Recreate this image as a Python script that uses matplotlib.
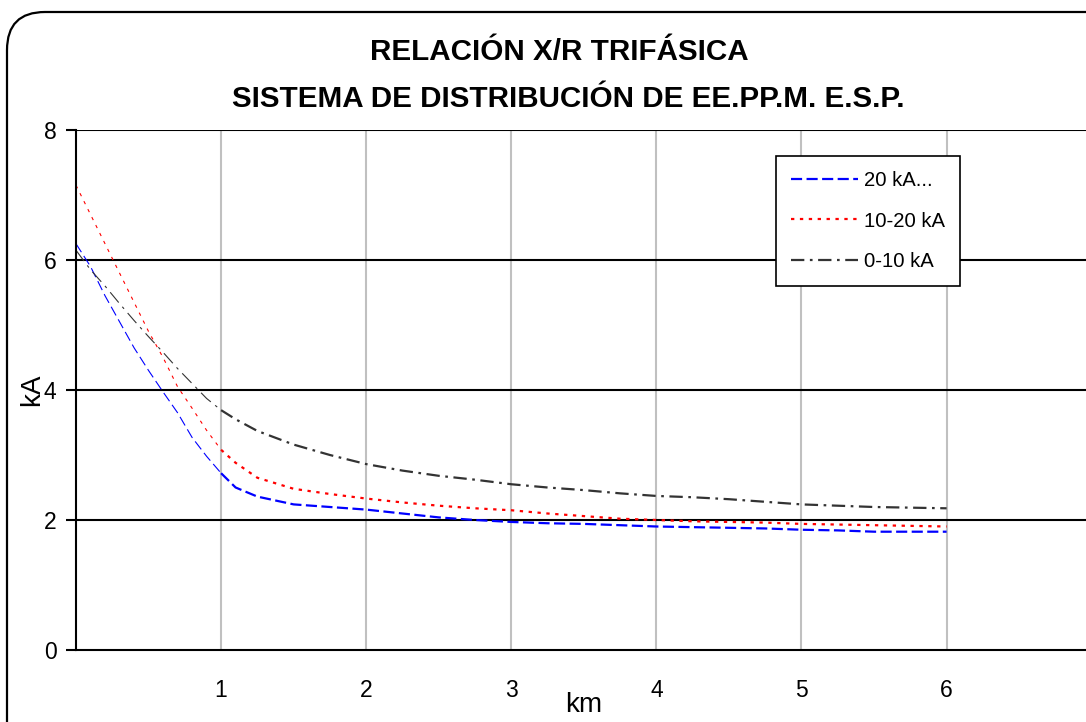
import numpy as np
import matplotlib
matplotlib.use("Agg")
import matplotlib.pyplot as plt
from matplotlib.patches import FancyBboxPatch

plt.rcParams['font.family'] = ['Liberation Sans', 'DejaVu Sans']

# distance (km) and X/R values
km = [0.0, 0.1, 0.2, 0.3, 0.4, 0.5, 0.6, 0.7, 0.8, 0.9, 1.0,
      1.1, 1.25, 1.5, 1.75, 2.0, 2.25, 2.5, 2.75, 3.0, 3.25, 3.5, 3.75,
      4.0, 4.25, 4.5, 4.75, 5.0, 5.25, 5.5, 5.75, 6.0]
xr_20 = [6.25, 5.9, 5.45, 5.05, 4.65, 4.3, 3.97, 3.65, 3.27, 2.98, 2.72,
         2.5, 2.36, 2.24, 2.2, 2.16, 2.1, 2.04, 2.0, 1.97, 1.95, 1.94, 1.92,
         1.9, 1.89, 1.88, 1.87, 1.85, 1.84, 1.82, 1.82, 1.82]
xr_10_20 = [7.15, 6.7, 6.25, 5.8, 5.35, 4.9, 4.5, 4.05, 3.72, 3.38, 3.08,
            2.88, 2.65, 2.48, 2.4, 2.33, 2.27, 2.22, 2.18, 2.15, 2.1, 2.06, 2.02,
            2.0, 1.98, 1.97, 1.96, 1.94, 1.93, 1.92, 1.91, 1.9]
xr_0_10 = [6.15, 5.85, 5.6, 5.33, 5.07, 4.82, 4.58, 4.33, 4.1, 3.87, 3.69,
           3.55, 3.37, 3.16, 3.0, 2.86, 2.76, 2.68, 2.62, 2.55, 2.5, 2.46, 2.41,
           2.37, 2.35, 2.32, 2.28, 2.24, 2.22, 2.2, 2.19, 2.18]
labels = ['20 kA...', '10-20 kA', '0-10 kA']
colors = ['#0000ff', '#ff0000', '#333333']
styles = [(0, (5, 2)), (0, (1.5, 2.5)), (0, (6, 2.5, 1.2, 2.5))]
thin_styles = [(0, (9, 4)), (0, (3, 5)), (0, (12, 5, 2.4, 5))]

fig = plt.figure(figsize=(10.86, 7.22), dpi=100)
ax = fig.add_axes([76 / 1086, 72 / 722, 7 * 145.1 / 1086, 520 / 722])

k = np.array(km)
split = 10  # lines drawn thin up to 1 km, thicker afterwards
for ys, c, ls, tls, lab in zip([xr_20, xr_10_20, xr_0_10], colors, styles, thin_styles, labels):
    y = np.array(ys)
    ax.plot(k[:split + 1], y[:split + 1], color=c, lw=0.8, linestyle=tls)
    ax.plot(k[split:], y[split:], color=c, lw=1.6, linestyle=ls, label=lab)

ax.set_xlim(0, 7)
ax.set_ylim(0, 8)
ax.set_xticks([1, 2, 3, 4, 5, 6])
ax.set_yticks([0, 2, 4, 6, 8])
ax.tick_params(axis='x', length=0, labelsize=16.5, pad=21)
ax.tick_params(axis='y', length=7, width=1.5, labelsize=16.5, pad=7)

for yv in [2, 4, 6, 8]:
    ax.axhline(yv, color='black', lw=1.5, zorder=1)
for xv in [1, 2, 3, 4, 5, 6]:
    ax.axvline(xv, color='#c0c0c0', lw=1.5, zorder=0)

ax.spines['top'].set_visible(False)
ax.spines['right'].set_visible(False)
ax.spines['left'].set_linewidth(1.5)
ax.spines['bottom'].set_linewidth(1.5)

ax.set_xlabel('km', fontsize=20, labelpad=-7)
ax.set_ylabel('kA', fontsize=20, labelpad=-1)

leg = ax.legend(loc='upper left', bbox_to_anchor=(776 / 1086, 1 - 156 / 722),
                bbox_transform=fig.transFigure, fancybox=False, framealpha=1,
                edgecolor='black', fontsize=14.6, handlelength=3.3,
                handletextpad=0.3, labelspacing=1.05, borderpad=0.75,
                borderaxespad=0)
leg.get_frame().set_linewidth(1.2)

fig.text(0.515, 0.928, 'RELACIÓN X/R TRIFÁSICA', ha='center', va='center',
         fontsize=21.3, fontweight='bold')
fig.text(0.523, 0.863, 'SISTEMA DE DISTRIBUCIÓN DE EE.PP.M. E.S.P.', ha='center',
         va='center', fontsize=21.3, fontweight='bold')

# rounded chart border, running off the bottom and right edges
border = FancyBboxPatch((7 / 1086, -0.1), 1.2, 0.1 + 1 - 12 / 722,
                        boxstyle='round,pad=0,rounding_size=0.035',
                        transform=fig.transFigure, fill=False,
                        edgecolor='black', lw=1.6, mutation_aspect=1086 / 722)
fig.patches.append(border)

fig.savefig('out.png', dpi=100)
